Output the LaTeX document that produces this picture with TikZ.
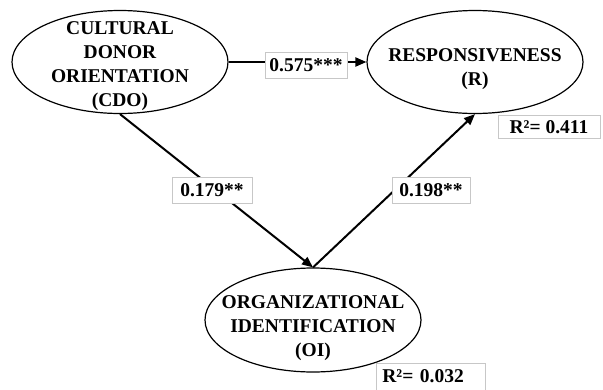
\documentclass[tikz,border=0pt]{standalone}
\usepackage{fontspec}
\setmainfont{Liberation Serif}
\usetikzlibrary{shapes.geometric,arrows.meta}
\tikzset{
  construct/.style={draw=black, line width=1.2pt, ellipse, minimum width=216pt, minimum height=103pt, inner sep=0pt},
  ctext/.style={align=center, font=\fontsize{19.5}{24}\selectfont\bfseries, inner sep=0pt},
  path/.style={draw=black, line width=2pt, -{Triangle[length=11pt,width=9pt]}},
  plain/.style={draw=black, line width=2pt},
  coef/.style={draw=black!22, line width=0.8pt, fill=white, font=\fontsize{19.5}{24}\selectfont\bfseries, minimum height=26pt, inner xsep=3pt, inner ysep=0pt, text height=13.2pt, text depth=0pt}
}
\begin{document}
\begin{tikzpicture}[x=1pt,y=-1pt]
\useasboundingbox (0,0) rectangle (603,389);
\fill[white] (0,0) rectangle (603,389);
% constructs
\node[construct] (cdo) at (120,62) {};
\node[construct] (r) at (475,62) {};
\node[construct, minimum height=104pt] (oi) at (313,320) {};
\node[ctext] (cdot) at (120,66.3) {CULTURAL\\DONOR\\ORIENTATION\\(CDO)};
\node[ctext] (rt) at (475,69.3) {RESPONSIVENESS\\(R)};
\node[ctext] (oit) at (313,327.8) {ORGANIZATIONAL\\IDENTIFICATION\\(OI)};
% paths
\draw[path] (cdo.east) -- (r.west);
\draw[path] (cdo.south) -- (oi.north);
\draw[path] (oi.north) -- (r.south);
% coefficients
\node[coef, minimum width=82pt] (c1) at (306,65) {0.575***};
\node[coef, minimum width=80pt] (c2) at (212,190) {0.179**};
\node[coef, minimum width=78pt] (c3) at (431,190) {0.198**};
% R squared
\node[coef, minimum width=102pt, minimum height=23pt] (r2r) at (549,126.5) {R²= 0.411};
\node[coef, anchor=north west, minimum width=109pt, minimum height=0pt, text depth=12pt, inner ysep=5.5pt, inner xsep=6pt, text width=97pt, align=left] (r2oi) at (376,363) {R²= 0.032};
\end{tikzpicture}
\end{document}
